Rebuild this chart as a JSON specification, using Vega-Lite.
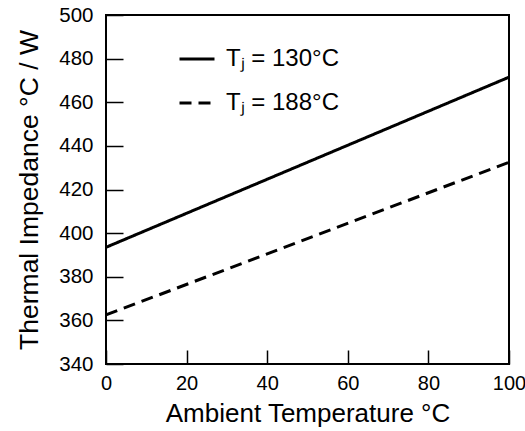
{
  "$schema": "https://vega.github.io/schema/vega-lite/v6.json",
  "width": 403,
  "height": 349,
  "autosize": {"type": "none"},
  "padding": {"left": 106, "top": 15, "right": 16, "bottom": 67},
  "background": "white",
  "config": {
    "font": "Liberation Sans",
    "view": {"stroke": "black", "strokeWidth": 2},
    "axis": {"grid": false, "domain": false, "tickColor": "black", "labelColor": "black", "titleColor": "black", "labelFont": "Liberation Sans", "titleFont": "Liberation Sans", "titleFontWeight": "normal"}
  },
  "data": {
    "values": [
      {"t": 0, "z": 393.5, "s": "Tⱼ = 130°C"},
      {"t": 100, "z": 471.5, "s": "Tⱼ = 130°C"},
      {"t": 0, "z": 362.5, "s": "Tⱼ = 188°C"},
      {"t": 100, "z": 432.5, "s": "Tⱼ = 188°C"}
    ]
  },
  "mark": {"type": "line", "color": "black", "strokeWidth": 3, "clip": true},
  "encoding": {
    "x": {"field": "t", "type": "quantitative", "scale": {"domain": [0, 100], "nice": false, "zero": false},
      "axis": {"values": [0, 20, 40, 60, 80, 100], "title": "Ambient Temperature °C", "titleFontSize": 26, "labelFontSize": 20, "offset": -14, "tickSize": 14, "tickWidth": 1.5, "labelPadding": 9, "titlePadding": 7, "labelFlush": false}},
    "y": {"field": "z", "type": "quantitative", "scale": {"domain": [340, 500], "nice": false, "zero": false},
      "axis": {"values": [340, 360, 380, 400, 420, 440, 460, 480, 500], "title": "Thermal Impedance °C / W", "titleFontSize": 26.5, "labelFontSize": 20.5, "offset": -17, "tickSize": 17, "tickWidth": 1.5, "labelPadding": 13, "titlePadding": 15}},
    "strokeDash": {"field": "s", "type": "nominal",
      "scale": {"domain": ["Tⱼ = 130°C", "Tⱼ = 188°C"], "range": [[1, 0], [12, 7]]},
      "legend": {"title": null, "orient": "none", "legendX": 72, "legendY": 25, "symbolType": "stroke", "symbolSize": 1225, "symbolStrokeWidth": 3, "symbolStrokeColor": "black", "labelFontSize": 24, "labelColor": "black", "labelOffset": 10, "rowPadding": 13, "labelFont": "Liberation Sans"}}
  }
}
